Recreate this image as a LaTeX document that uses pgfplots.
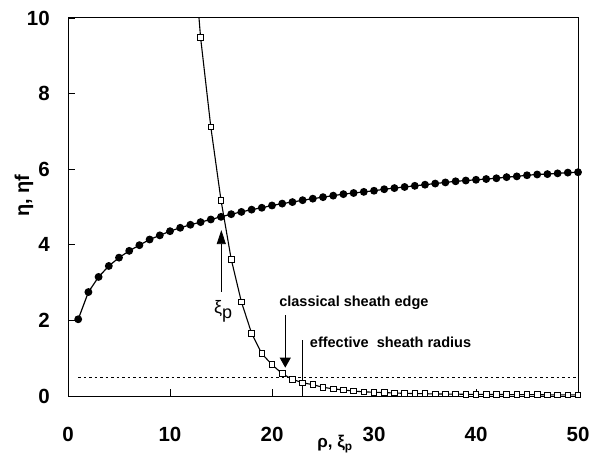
\documentclass[border=0pt]{standalone}
\usepackage{fontspec}
\setmainfont{Liberation Sans}
\usepackage{pgfplots}
\pgfplotsset{compat=1.18}
\usetikzlibrary{arrows.meta}

\pgfplotstableread{
rho eta
1 2.03
2 2.75
3 3.15
4 3.44
5 3.66
6 3.84
7 3.99
8 4.14
9 4.25
10 4.36
11 4.45
12 4.53
13 4.60
14 4.67
15 4.74
16 4.81
17 4.87
18 4.93
19 4.98
20 5.04
21 5.09
22 5.13
23 5.18
24 5.22
25 5.26
26 5.30
27 5.34
28 5.37
29 5.40
30 5.43
31 5.47
32 5.50
33 5.53
34 5.56
35 5.59
36 5.62
37 5.65
38 5.68
39 5.70
40 5.72
41 5.74
42 5.76
43 5.79
44 5.81
45 5.84
46 5.86
47 5.87
48 5.89
49 5.91
50 5.92
}\etatable

\pgfplotstableread{
rho etaf
12 12.8
13 9.48
14 7.12
15 5.18
16 3.62
17 2.49
18 1.66
19 1.12
20 0.83
21 0.59
22 0.44
23 0.35
24 0.30
25 0.23
26 0.19
27 0.16
28 0.13
29 0.11
30 0.10
31 0.09
32 0.08
33 0.07
34 0.065
35 0.06
36 0.055
37 0.05
38 0.05
39 0.045
40 0.045
41 0.04
42 0.04
43 0.04
44 0.035
45 0.035
46 0.035
47 0.03
48 0.03
49 0.03
50 0.03
}\etaftable

\begin{document}
\begin{tikzpicture}
\begin{axis}[
  name=ax,
  scale only axis,
  width=510pt, height=378pt,
  xmin=0, xmax=50, ymin=0, ymax=10,
  xtick={0,10,...,50}, ytick={0,2,...,10},
  tick align=inside,
  tick pos=left,
  major tick length=7pt,
  axis line style={line width=1pt},
  every tick/.style={black, line width=0.8pt},
  /pgf/number format/assume math mode=true,
  ticklabel style={font=\fontsize{20.5}{22}\selectfont\bfseries},
  xticklabel style={anchor=north, inner sep=0pt, yshift=-31pt},
  yticklabel style={anchor=east, inner sep=0pt, xshift=-18pt},
  xlabel={ρ, ξ\textsubscript{p}},
  xlabel style={at={(axis description cs:0.5235,-0.127)}, anchor=center, inner sep=0pt, font=\fontsize{17}{19}\selectfont\bfseries},
  ylabel={η,  ηf},
  ylabel style={at={(axis description cs:-0.0863,0.53)}, anchor=center, inner sep=0pt, font=\fontsize{20}{22}\selectfont\bfseries},
]
\addplot[black, line width=1.2pt, mark=*, mark size=3.3pt, mark options={fill=black}] table[x=rho, y=eta] {\etatable};
\addplot[black, line width=1.1pt, mark=square*, mark size=2.8pt, mark options={fill=white, line width=0.9pt}] table[x=rho, y=etaf] {\etaftable};
\addplot[black, line width=0.8pt, dash pattern=on 2.5pt off 3pt] coordinates {(1,0.5) (50,0.5)};

\draw[black, line width=1.3pt] (axis cs:23,0) -- (axis cs:23,1.48);
\draw[black, line width=1pt, -{Triangle[length=10pt,width=11pt]}] (axis cs:21.3,2.14) -- (axis cs:21.3,0.75);
\draw[black, line width=0.8pt, -{Triangle[length=14pt,width=9pt]}] (axis cs:15.03,2.76) -- (axis cs:15.03,4.39);

\node[anchor=west, inner sep=0pt, font=\fontsize{14.5}{16}\selectfont\bfseries] at (axis cs:20.7,2.46) {classical sheath edge};
\node[anchor=west, inner sep=0pt, font=\fontsize{14.5}{16}\selectfont\bfseries] at (axis cs:23.7,1.43) {effective\ \ sheath radius};
\node[anchor=center, inner sep=0pt, font=\fontsize{18}{20}\selectfont] at (axis cs:15.2,2.24) {ξ\raisebox{-0.25em}{p}};
\end{axis}
\path ([shift={(-68pt,-64pt)}]ax.south west) rectangle ([shift={(22pt,18pt)}]ax.north east);
\end{tikzpicture}
\end{document}
